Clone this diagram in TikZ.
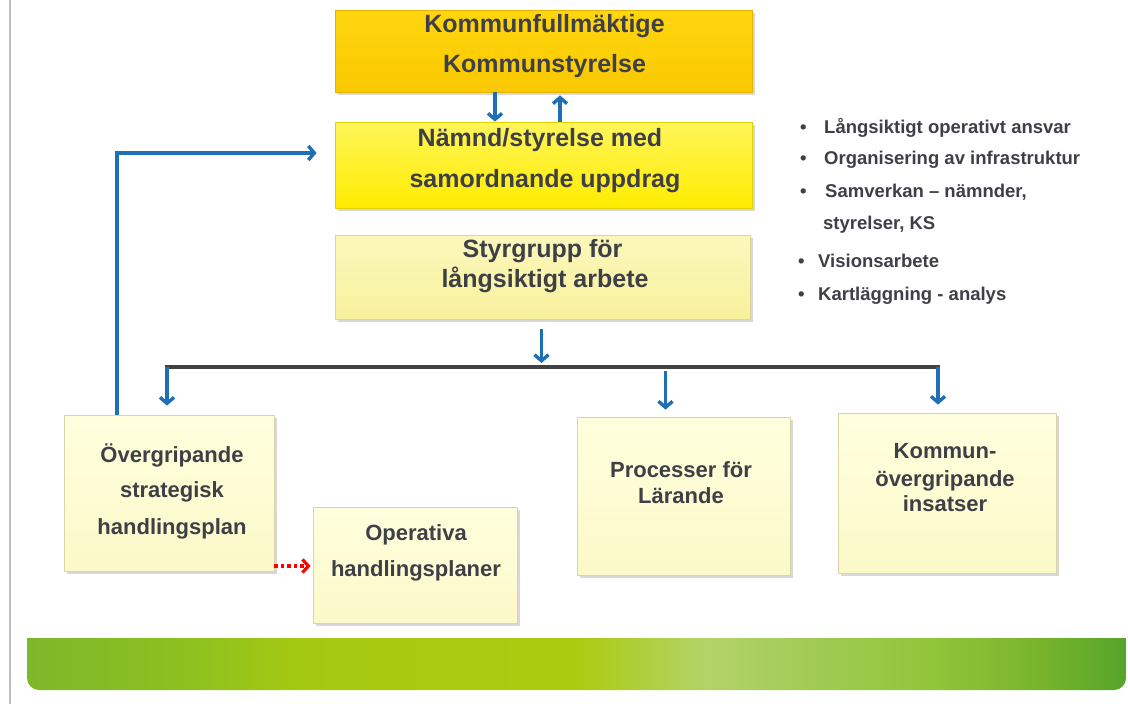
\documentclass[tikz,border=0pt]{standalone}
\usepackage{fontspec}
\setmainfont{Liberation Sans}
\usetikzlibrary{arrows.meta,shadows}
\definecolor{arrowblue}{HTML}{1F6FB6}
\definecolor{txtcol}{HTML}{3F3F48}
\definecolor{kTop}{HTML}{FFD60E}
\definecolor{kBot}{HTML}{F9C800}
\definecolor{kEdge}{HTML}{E6B200}
\definecolor{nTop}{HTML}{FFF55A}
\definecolor{nBot}{HTML}{FFEC00}
\definecolor{nEdge}{HTML}{E2D200}
\definecolor{sTop}{HTML}{FBF8BC}
\definecolor{sBot}{HTML}{F7F19C}
\definecolor{sEdge}{HTML}{DCD69A}
\definecolor{lTop}{HTML}{FFFFDE}
\definecolor{lBot}{HTML}{FBF9C8}
\definecolor{lEdge}{HTML}{D8D6A8}
\definecolor{barcol}{HTML}{424242}
\definecolor{greyline}{HTML}{BEBEBE}
\definecolor{gA}{HTML}{7DB82A}
\definecolor{gB}{HTML}{8EC11F}
\definecolor{gC}{HTML}{A5C912}
\definecolor{gD}{HTML}{ABCB10}
\definecolor{gE}{HTML}{B3D36A}
\definecolor{gF}{HTML}{A3CC58}
\definecolor{gG}{HTML}{92C53A}
\definecolor{gH}{HTML}{78B52C}
\definecolor{gI}{HTML}{56A42A}
\pgfdeclarehorizontalshading{gband}{100bp}{color(0bp)=(gA); color(25bp)=(gA); color(32.5bp)=(gB); color(37.5bp)=(gC); color(50bp)=(gD); color(56bp)=(gE); color(60bp)=(gF); color(66bp)=(gG); color(71bp)=(gH); color(75bp)=(gI); color(100bp)=(gI)}
\begin{document}
\begin{tikzpicture}[x=1pt,y=-1pt,
  boxbase/.style={rectangle, inner sep=0pt, line width=0.8pt,
    drop shadow={shadow xshift=2.5pt, shadow yshift=-3pt, opacity=0.3}},
  kbox/.style={boxbase, top color=kTop, bottom color=kBot, draw=kEdge},
  nbox/.style={boxbase, top color=nTop, bottom color=nBot, draw=nEdge},
  sbox/.style={boxbase, top color=sTop, bottom color=sBot, draw=sEdge},
  lbox/.style={boxbase, top color=lTop, bottom color=lBot, draw=lEdge},
  txtbig/.style={anchor=base, text=txtcol, font=\fontsize{25}{30}\selectfont\bfseries, inner sep=0pt},
  txtsmall/.style={anchor=base, text=txtcol, font=\fontsize{22}{26}\selectfont\bfseries, inner sep=0pt},
  bul/.style={anchor=base west, text=txtcol, font=\fontsize{18.5}{22}\selectfont\bfseries, inner sep=0pt},
  barrow/.style={draw=arrowblue, line width=3.4pt, -{Straight Barb[length=6pt,width=14pt]}},
  darkbar/.style={draw=barcol, line width=3.6pt},
  reddot/.style={draw=red, line width=3.2pt, dash pattern=on 3.5pt off 3pt, -{Straight Barb[length=6pt,width=13pt]}}
]
\useasboundingbox (0,0) rectangle (1128,704);
\fill[white] (0,0) rectangle (1128,704);

% left grey rule
\draw[greyline, line width=2.5pt] (10,0) -- (10,704);

% green band
\shade[shading=gband] (27,638) -- (1126,638) -- (1126,678)
  arc[start angle=0, end angle=-90, radius=12pt] -- (39,690)
  arc[start angle=270, end angle=180, radius=12pt] -- cycle;

% top boxes
\node[kbox, minimum width=417pt, minimum height=82pt] (K) at (543.5,51) {};
\node[txtbig] (Kt1) at (544.5,32) {Kommunfullmäktige};
\node[txtbig] (Kt2) at (544.5,72) {Kommunstyrelse};

\node[nbox, minimum width=417pt, minimum height=86pt] (N) at (543.5,165) {};
\node[txtbig] (Nt1) at (540,146) {Nämnd/styrelse med};
\node[txtbig] (Nt2) at (545,187) {samordnande uppdrag};

\node[sbox, minimum width=415pt, minimum height=84pt] (S) at (542.5,277) {};
\node[txtbig] (St1) at (542.5,257) {Styrgrupp för};
\node[txtbig] (St2) at (545,287) {långsiktigt arbete};

% lower boxes
\node[lbox, minimum width=210pt, minimum height=156pt] (ov) at (169,493) {};
\node[txtsmall] (ovt1) at (172,462) {Övergripande};
\node[txtsmall] (ovt2) at (172,497) {strategisk};
\node[txtsmall] (ovt3) at (172,534) {handlingsplan};

\node[lbox, minimum width=204pt, minimum height=116pt] (op) at (415,565) {};
\node[txtsmall] (opt1) at (416,540) {Operativa};
\node[txtsmall] (opt2) at (416,576) {handlingsplaner};

\node[lbox, minimum width=213pt, minimum height=158pt] (P) at (683.5,496) {};
\node[txtsmall] (Pt1) at (681,477) {Processer för};
\node[txtsmall] (Pt2) at (681,503) {Lärande};

\node[lbox, minimum width=218pt, minimum height=160pt] (Km) at (947,493) {};
\node[txtsmall] (Kmt1) at (945,458) {Kommun-};
\node[txtsmall] (Kmt2) at (945,486) {övergripande};
\node[txtsmall] (Kmt3) at (945,511) {insatser};

% bullet list
\node[bul] (b1) at (800,133) {\makebox[24pt][l]{•}Långsiktigt operativt ansvar};
\node[bul] (b2) at (800,164) {\makebox[24pt][l]{•}Organisering av infrastruktur};
\node[bul] (b3) at (800,197) {\makebox[25pt][l]{•}Samverkan – nämnder,};
\node[bul] (b4) at (823,229) {styrelser, KS};
\node[bul] (b5) at (798,267) {\makebox[20pt][l]{•}Visionsarbete};
\node[bul] (b6) at (798,300) {\makebox[20pt][l]{•}Kartläggning - analys};

% connectors
\coordinate (cd) at (495,0);
\coordinate (cu) at (560,0);
\draw[barrow] (K.south -| cd) -- (N.north -| cd);
\draw[barrow, shorten >=3pt] (N.north -| cu) -- (K.south -| cu);

\coordinate (sEnd) at (541.5,363);
\draw[barrow, shorten <=10pt] (S.south -| sEnd) -- (sEnd);

\coordinate (barL) at (165,367);
\coordinate (barR) at (940,367);
\draw[darkbar] (barL) -- (barR);

\coordinate (a1) at (167,367);
\coordinate (a2) at (665.5,371);
\coordinate (a3) at (938,367);
\draw[barrow, shorten >=9pt] (a1) -- (a1 |- ov.north);
\draw[barrow, shorten >=7pt] (a2) -- (a2 |- P.north);
\draw[barrow, shorten >=8pt] (a3) -- (a3 |- Km.north);

\coordinate (lc) at (117,153);
\draw[barrow, shorten >=18pt] (ov.north -| lc) |- (N.west |- lc);

\coordinate (rc) at (0,566);
\draw[reddot, shorten >=2pt] (ov.east |- rc) -- (op.west |- rc);
\end{tikzpicture}
\end{document}
